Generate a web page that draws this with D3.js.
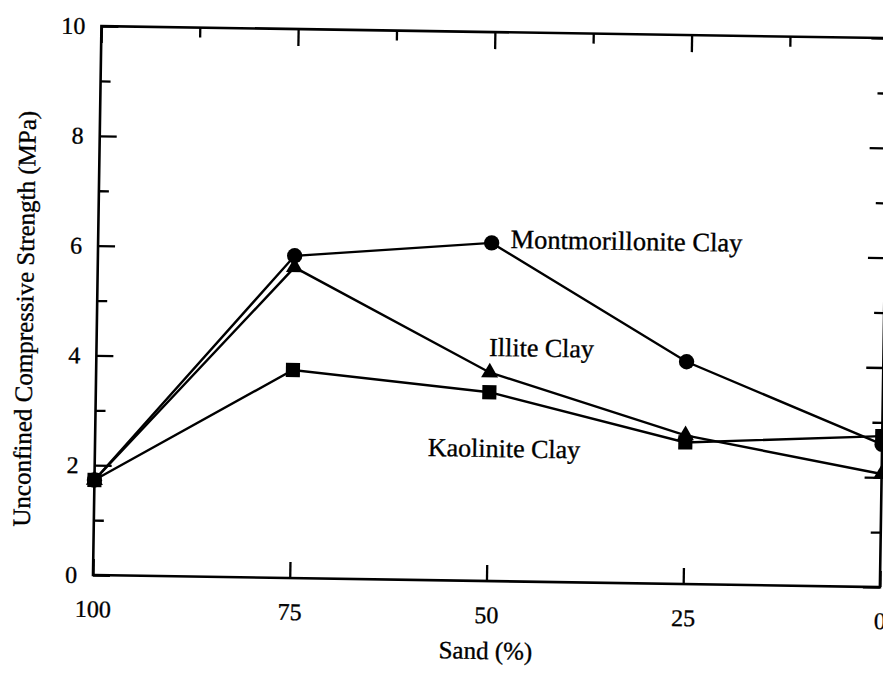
<!DOCTYPE html>
<html>
<head>
<meta charset="utf-8">
<script src="https://cdn.jsdelivr.net/npm/d3@7"></script>
<style>
  body { margin: 0; background: #fff; overflow: hidden; }
  text { font-family: "Liberation Serif", "DejaVu Serif", serif; fill: #000; stroke: #000; stroke-width: 0.35px; }
</style>
</head>
<body>
<script>
// DATA
const sand = [100, 75, 50, 25, 0];
const montmorillonite = [1.73, 5.87, 6.16, 4.05, 2.6];
const illite = [1.73, 5.66, 3.8, 2.71, 2.06];
const kaolinite = [1.73, 3.79, 3.44, 2.58, 2.75];
const xTicks = [100, 75, 50, 25, 0];
const yTicks = [0, 2, 4, 6, 8, 10];

// CONFIGURATION
const width = 883;
const height = 674;
const left = 93;
const bottom = 575;
const plotW = 787;
const plotH = 549;
const tilt = 0.88; // the scanned page is slightly rotated

const xScale = d3.scaleLinear().domain([100, 0]).range([left, left + plotW]);
const yScale = d3.scaleLinear().domain([0, 10]).range([bottom, bottom - plotH]);

const series = [
  { name: 'Illite Clay', values: illite, symbol: d3.symbolTriangle, size: 125 },
  { name: 'Montmorillonite Clay', values: montmorillonite, symbol: d3.symbolCircle, size: 185 },
  { name: 'Kaolinite Clay', values: kaolinite, symbol: d3.symbolSquare, size: 200 }
];

// SVG
const svg = d3.select('body')
  .append('svg')
  .attr('width', width)
  .attr('height', height);

const g = svg.append('g')
  .attr('transform', `rotate(${tilt}, ${left}, ${bottom})`);

// FRAME
g.append('rect')
  .attr('x', xScale(100))
  .attr('y', yScale(10))
  .attr('width', xScale(0) - xScale(100))
  .attr('height', yScale(0) - yScale(10))
  .attr('fill', 'none')
  .attr('stroke', '#000')
  .attr('stroke-width', 2.6);

// AXES
function styleAxis(sel) {
  sel.select('.domain').remove();
  sel.selectAll('line').attr('stroke', '#000').attr('stroke-width', 2.3);
  sel.selectAll('text').style('font-size', '24px').attr('fill', '#000')
    .style('font-family', '"Liberation Serif", serif');
}

const minorY = [1, 3, 5, 7, 9];
const minorX = [87.5, 62.5, 37.5, 12.5];

g.append('g')
  .attr('transform', `translate(0, ${bottom})`)
  .call(d3.axisBottom(xScale).tickValues(xTicks).tickSize(-16).tickPadding(25).tickSizeOuter(0))
  .call(styleAxis);

g.append('g')
  .attr('transform', `translate(0, ${yScale(10)})`)
  .call(d3.axisTop(xScale).tickValues(xTicks).tickSize(-17).tickFormat('').tickSizeOuter(0))
  .call(styleAxis);
g.append('g')
  .attr('transform', `translate(0, ${yScale(10)})`)
  .call(d3.axisTop(xScale).tickValues(minorX).tickSize(-10).tickFormat('').tickSizeOuter(0))
  .call(styleAxis);

g.append('g')
  .attr('transform', `translate(${left}, 0)`)
  .call(d3.axisLeft(yScale).tickValues(yTicks).tickSize(-17).tickPadding(16).tickSizeOuter(0))
  .call(styleAxis);
g.append('g')
  .attr('transform', `translate(${left}, 0)`)
  .call(d3.axisLeft(yScale).tickValues(minorY).tickSize(-10).tickFormat('').tickSizeOuter(0))
  .call(styleAxis);

g.append('g')
  .attr('transform', `translate(${xScale(0)}, 0)`)
  .call(d3.axisRight(yScale).tickValues(yTicks).tickSize(-17).tickFormat('').tickSizeOuter(0))
  .call(styleAxis);
g.append('g')
  .attr('transform', `translate(${xScale(0)}, 0)`)
  .call(d3.axisRight(yScale).tickValues(minorY).tickSize(-10).tickFormat('').tickSizeOuter(0))
  .call(styleAxis);

// AXIS TITLES
g.append('text')
  .attr('x', xScale(50))
  .attr('y', bottom + 78)
  .attr('text-anchor', 'middle')
  .style('font-size', '25px')
  .text('Sand (%)');

g.append('text')
  .attr('transform', `translate(${left - 64}, ${yScale(4.65)}) rotate(-90)`)
  .attr('text-anchor', 'middle')
  .style('font-size', '25px')
  .text('Unconfined Compressive Strength (MPa)');

// LINES
const line = d3.line()
  .x(function(d, i) { return xScale(sand[i]); })
  .y(function(d) { return yScale(d); });

series.forEach(function(s) {
  g.append('path')
    .datum(s.values)
    .attr('d', line)
    .attr('fill', 'none')
    .attr('stroke', '#000')
    .attr('stroke-width', 2.4);
});

// MARKERS
series.forEach(function(s) {
  g.selectAll(null)
    .data(s.values)
    .enter()
    .append('path')
    .attr('d', d3.symbol().type(s.symbol).size(s.size))
    .attr('transform', function(d, i) {
      return `translate(${xScale(sand[i])}, ${yScale(d)})`;
    })
    .attr('fill', '#000');
});

// SERIES LABELS
g.append('text')
  .attr('x', xScale(47.6))
  .attr('y', yScale(6.07))
  .style('font-size', '26.5px')
  .text('Montmorillonite Clay');

g.append('text')
  .attr('x', xScale(50.1))
  .attr('y', yScale(4.1))
  .style('font-size', '26px')
  .text('Illite Clay');

g.append('text')
  .attr('x', xScale(57.7))
  .attr('y', yScale(2.26))
  .style('font-size', '26px')
  .text('Kaolinite Clay');
</script>
</body>
</html>
